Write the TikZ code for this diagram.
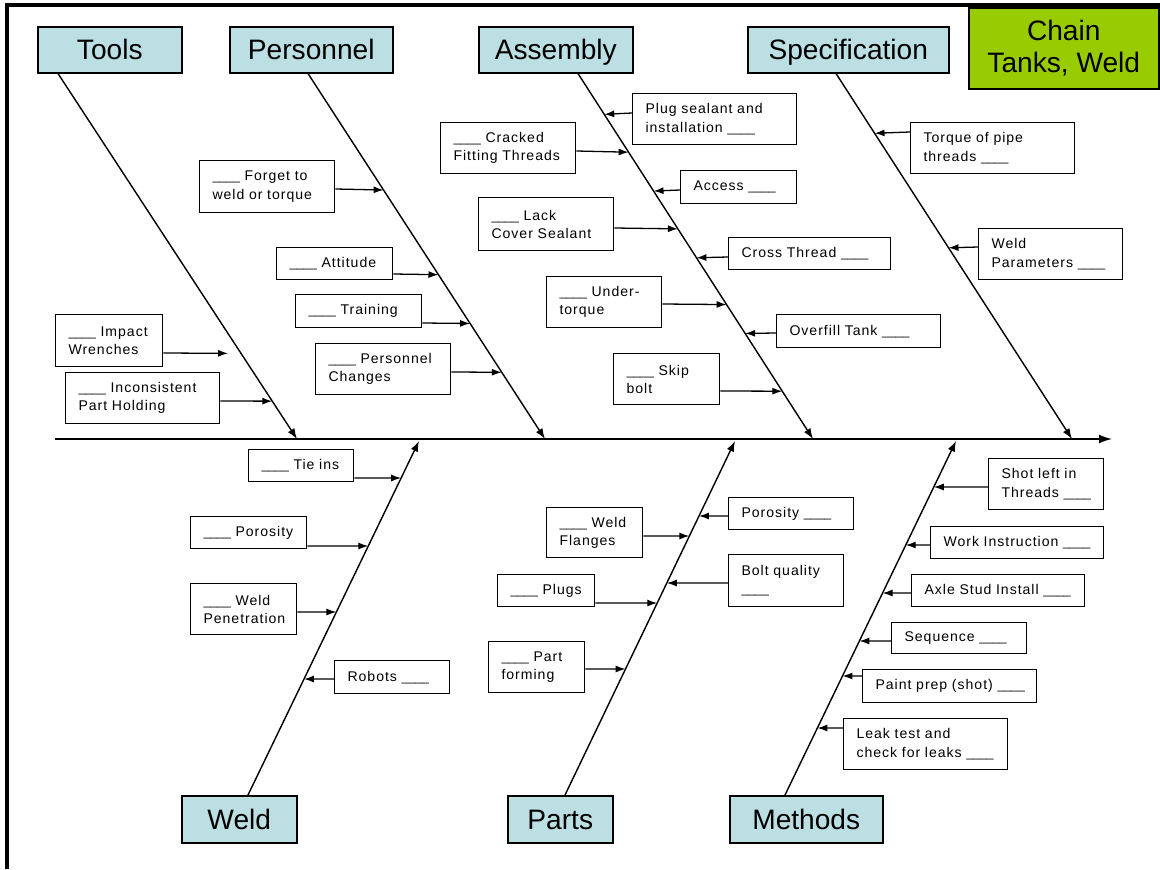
\documentclass[tikz,border=0pt]{standalone}
\usepackage{fontspec}
\setmainfont{Liberation Sans}
\newfontfamily\causefont[LetterSpace=7]{Liberation Sans}
\usetikzlibrary{arrows.meta,calc}

\definecolor{headblue}{RGB}{187,223,227}
\definecolor{chaingreen}{RGB}{153,204,0}

% blank to fill in
\newcommand\blank{{\rmfamily\fontsize{10.5}{15.5}\selectfont\_\_\_\_}}

\tikzset{
  head/.style 2 args={draw, line width=1.3pt, fill=headblue, anchor=north west,
    minimum width=#1*0.03cm, minimum height=#2*0.03cm, inner sep=0pt,
    text height=17pt, text depth=0pt, font=\fontsize{24}{27}\selectfont},
  cause/.style 2 args={draw, line width=1.1pt, fill=white, anchor=north west,
    minimum width=#1*0.03cm, minimum height=#2*0.03cm, inner xsep=11pt, inner ysep=0pt,
    text width=#1*0.03cm-22pt, align=left, font=\causefont\fontsize{12}{15.5}\selectfont},
  bone/.style={line width=1.2pt, -{Latex[length=9pt,width=6.5pt]}},
  feed/.style={line width=1.1pt, -{Latex[length=8.5pt,width=6pt]}},
}

\begin{document}
\begin{tikzpicture}[x=0.03cm, y=-0.03cm]
  \useasboundingbox (0,0) rectangle (1160,869);

  % frame
  \draw[line width=2.6pt] (7,869) -- (7,5) -- (1160,5);

  % Category heads
  \node[head={144}{46}] (tools) at (37,26) {Tools};
  \node[head={163}{46}] (pers) at (229,26) {Personnel};
  \node[head={154}{46}] (asm) at (478,26) {Assembly};
  \node[head={201}{46}] (spec) at (747,26) {Specification};
  \node[head={190}{81}, text height={}, text depth={}, fill=chaingreen, align=center] (chain) at (968,7) {Chain\\Tanks, Weld};
  \node[head={115}{47}] (weld) at (181,795) {Weld};
  \node[head={105}{47}] (parts) at (507,795) {Parts};
  \node[head={153}{47}] (meth) at (729,795) {Methods};

  % Spine
  \coordinate (spineStart) at (55,439);
  \coordinate (spineEnd) at (1112,439);
  \draw[bone, -{Latex[length=11pt,width=7.5pt]}] (spineStart) -- (spineEnd);

  % Bones
  \coordinate (toolsTip) at (297,439);
  \coordinate (persTip) at (545,439);
  \coordinate (asmTip) at (813,439);
  \coordinate (specTip) at (1072,439);
  \coordinate (weldTip) at (419,441);
  \coordinate (partsTip) at (735,441);
  \coordinate (methTip) at (956,441);
  \draw[bone] (tools.south -| 58,0) coordinate (toolsTop) -- (toolsTip);
  \draw[bone] (pers.south -| 308,0) coordinate (persTop) -- (persTip);
  \draw[bone] (asm.south -| 578,0) coordinate (asmTop) -- (asmTip);
  \draw[bone] (spec.south -| 836,0) coordinate (specTop) -- (specTip);
  \draw[bone] (weld.north -| 248,0) coordinate (weldTop) -- (weldTip);
  \draw[bone] (parts.north -| 565,0) coordinate (partsTop) -- (partsTip);
  \draw[bone] (meth.north -| 785,0) coordinate (methTop) -- (methTip);

  % Tools causes
  \node[cause={107}{52}] (iw) at (55,314) {\blank~Impact\\Wrenches};
  \node[cause={154}{51}] (ih) at (65,372) {\blank~Inconsistent\\Part~Holding};
  \draw[feed] (iw.east |- 0,353) -- ($(toolsTop)!{(353-72)/367}!(toolsTip)+(-13,0)$);
  \draw[feed] (ih.east |- 0,401) -- ($(toolsTop)!{(401-72)/367}!(toolsTip)$);

  % Personnel causes
  \node[cause={135}{52}] (fw) at (199,160) {\blank~Forget~to\\weld~or~torque};
  \node[cause={116}{32}] (att) at (276,247) {\blank~Attitude};
  \node[cause={126}{33}] (tr) at (295,294) {\blank~Training};
  \node[cause={135}{51}] (pc) at (315,343) {\blank~Personnel\\Changes};
  \draw[feed] (fw.east |- 0,189) -- ($(persTop)!{(189-72)/367}!(persTip)$);
  \draw[feed] (att.east |- 0,274) -- ($(persTop)!{(274-72)/367}!(persTip)$);
  \draw[feed] (tr.east |- 0,323) -- ($(persTop)!{(323-72)/367}!(persTip)$);
  \draw[feed] (pc.east |- 0,372) -- ($(persTop)!{(372-72)/367}!(persTip)$);

  % Assembly causes
  \node[cause={164}{51}] (ps) at (632,93) {Plug~sealant~and\\installation~\blank};
  \node[cause={135}{51}] (cf) at (440,122) {\blank~Cracked\\Fitting~Threads};
  \node[cause={116}{33}] (ac) at (680,170) {Access~\blank};
  \node[cause={135}{53}] (lc) at (478,197) {\blank~Lack\\Cover~Sealant};
  \node[cause={162}{32}] (ct) at (728,237) {Cross~Thread~\blank};
  \node[cause={115}{51}] (ut) at (546,276) {\blank~Under-\\torque};
  \node[cause={164}{33}] (ot) at (776,314) {Overfill~Tank~\blank};
  \node[cause={106}{51}] (sb) at (613,353) {\blank~Skip\\bolt};
  \draw[feed] (ps.west |- 0,113) -- ($(asmTop)!{(113-72)/367}!(asmTip)$);
  \draw[feed] (cf.east |- 0,151) -- ($(asmTop)!{(151-72)/367}!(asmTip)$);
  \draw[feed] (ac.west |- 0,190) -- ($(asmTop)!{(190-72)/367}!(asmTip)$);
  \draw[feed] (lc.east |- 0,228) -- ($(asmTop)!{(228-72)/367}!(asmTip)$);
  \draw[feed] (ct.west |- 0,257) -- ($(asmTop)!{(257-72)/367}!(asmTip)$);
  \draw[feed] (ut.east |- 0,304) -- ($(asmTop)!{(304-72)/367}!(asmTip)$);
  \draw[feed] (ot.west |- 0,333) -- ($(asmTop)!{(333-72)/367}!(asmTip)$);
  \draw[feed] (sb.east |- 0,391) -- ($(asmTop)!{(391-72)/367}!(asmTip)$);

  % Specification causes
  \node[cause={164}{51}] (tp) at (910,122) {Torque~of~pipe\\threads~\blank};
  \node[cause={144}{51}] (wp) at (978,228) {Weld\\Parameters~\blank};
  \draw[feed] (tp.west |- 0,132) -- ($(specTop)!{(132-72)/367}!(specTip)$);
  \draw[feed] (wp.west |- 0,247) -- ($(specTop)!{(247-72)/367}!(specTip)$);

  % Weld causes
  \node[cause={105}{32}] (ti) at (248,449) {\blank~Tie~ins};
  \node[cause={116}{32}] (po) at (190,516) {\blank~Porosity};
  \node[cause={106}{51}] (pe) at (190,583) {\blank~Weld\\Penetration};
  \node[cause={115}{33}] (ro) at (334,660) {Robots~\blank};
  \draw[feed] (ti.east |- 0,478) -- ($(weldTop)!{(795-478)/354}!(weldTip)$);
  \draw[feed] (po.east |- 0,546) -- ($(weldTop)!{(795-546)/354}!(weldTip)$);
  \draw[feed] (pe.east |- 0,612) -- ($(weldTop)!{(795-612)/354}!(weldTip)$);
  \draw[feed] (ro.west |- 0,679) -- ($(weldTop)!{(795-679)/354}!(weldTip)$);

  % Parts causes
  \node[cause={96}{50}] (wf) at (546,507) {\blank~Weld\\Flanges};
  \node[cause={125}{32}] (pp) at (728,497) {Porosity~\blank};
  \node[cause={97}{32}] (pl) at (497,574) {\blank~Plugs};
  \node[cause={115}{52}] (bq) at (728,554) {Bolt~quality\\\blank};
  \node[cause={96}{51}] (pf) at (488,641) {\blank~Part\\forming};
  \draw[feed] (wf.east |- 0,536) -- ($(partsTop)!{(795-536)/354}!(partsTip)$);
  \draw[feed] (pp.west |- 0,516) -- ($(partsTop)!{(795-516)/354}!(partsTip)$);
  \draw[feed] (pl.east |- 0,603) -- ($(partsTop)!{(795-603)/354}!(partsTip)$);
  \draw[feed] (bq.west |- 0,583) -- ($(partsTop)!{(795-583)/354}!(partsTip)$);
  \draw[feed] (pf.east |- 0,669) -- ($(partsTop)!{(795-669)/354}!(partsTip)$);

  % Methods causes
  \node[cause={115}{51}] (sl) at (988,458) {Shot~left~in\\Threads~\blank};
  \node[cause={173}{32}] (wi) at (930,526) {Work~Instruction~\blank};
  \node[cause={173}{32}] (asi) at (911,574) {Axle~Stud~Install~\blank};
  \node[cause={135}{31}] (sq) at (891,622) {Sequence~\blank};
  \node[cause={174}{33}] (pr) at (862,669) {Paint~prep~(shot)~\blank};
  \node[cause={164}{51}] (lt) at (843,718) {Leak~test~and\\check~for~leaks~\blank};
  \draw[feed] (sl.west |- 0,487) -- ($(methTop)!{(795-487)/354}!(methTip)$);
  \draw[feed] (wi.west |- 0,545) -- ($(methTop)!{(795-545)/354}!(methTip)$);
  \draw[feed] (asi.west |- 0,593) -- ($(methTop)!{(795-593)/354}!(methTip)$);
  \draw[feed] (sq.west |- 0,641) -- ($(methTop)!{(795-641)/354}!(methTip)$);
  \draw[feed] (pr.west |- 0,676) -- ($(methTop)!{(795-676)/354}!(methTip)$);
  \draw[feed] (lt.west |- 0,728) -- ($(methTop)!{(795-728)/354}!(methTip)$);

\end{tikzpicture}
\end{document}
